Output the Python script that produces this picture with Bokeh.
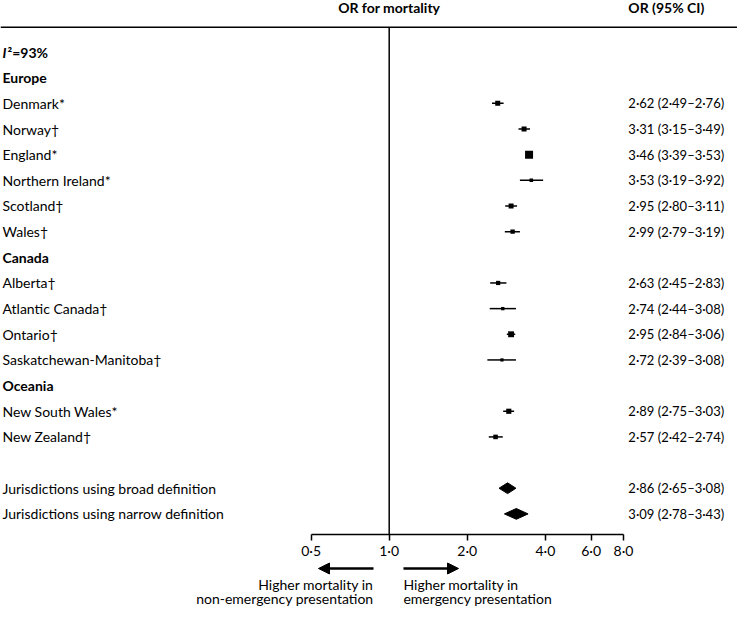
from bokeh.plotting import figure
from bokeh.models import Range1d, FixedTicker, Span, Arrow, NormalHead, ColumnDataSource
from bokeh.layouts import column
from bokeh.core.properties import value
from bokeh.embed import file_html
from bokeh.resources import INLINE
import numpy as np

# ---------------- data ----------------
regions = ["Europe", "Canada", "Oceania"]
jurisdictions = [
    ["Denmark*", "Norway†", "England*", "Northern Ireland*", "Scotland†", "Wales†"],
    ["Alberta†", "Atlantic Canada†", "Ontario†", "Saskatchewan-Manitoba†"],
    ["New South Wales*", "New Zealand†"],
]
or_est = [2.62, 3.31, 3.46, 3.53, 2.95, 2.99, 2.63, 2.74, 2.95, 2.72, 2.89, 2.57]
or_lo = [2.49, 3.15, 3.39, 3.19, 2.80, 2.79, 2.45, 2.44, 2.84, 2.39, 2.75, 2.42]
or_hi = [2.76, 3.49, 3.53, 3.92, 3.11, 3.19, 2.83, 3.08, 3.06, 3.08, 3.03, 2.74]
pooled_labels = ["Jurisdictions using broad definition", "Jurisdictions using narrow definition"]
pooled_est = [2.86, 3.09]
pooled_lo = [2.65, 2.78]
pooled_hi = [3.08, 3.43]
i2_text = "²=93%"
tick_values = [0.5, 1, 2, 4, 6, 8]
tick_labels = ["0·5", "1·0", "2·0", "4·0", "6·0", "8·0"]
left_note = ["Higher mortality in", "non-emergency presentation"]
right_note = ["Higher mortality in", "emergency presentation"]

# ---------------- layout constants ----------------
W = 737
FRAME_H = 535
BORDER_B = 26
H1 = FRAME_H + BORDER_B
H2 = 606 - H1
FONT = value("Lato")
FS = "14px"
FS_VAL = "13px"
XMIN, XMAX = 0.03176, 22.0
VAL_X = 8.35
YTOP, YBOT = -2.008, 18.803


def fmt(v):
    return f"{v:.2f}".replace(".", "·")


# rows
rows_label, rows_y, bold_y, bold_txt = [], [], [], []
r = 1
for reg, items in zip(regions, jurisdictions):
    bold_txt.append(reg)
    bold_y.append(r)
    r += 1
    for name in items:
        rows_label.append(name)
        rows_y.append(r)
        r += 1
r += 1
pool_y = [r, r + 1]

# marker size derived from precision (se from CI width)
se = (np.log(or_hi) - np.log(or_lo)) / 3.92
sizes = list(0.812 / np.sqrt(se))

p = figure(width=W, height=H1, x_axis_type="log", output_backend="svg",
           toolbar_location=None, x_range=Range1d(XMIN, XMAX),
           y_range=Range1d(YBOT, YTOP), y_axis_location=None,
           min_border_left=0, min_border_right=0, min_border_top=0,
           min_border_bottom=BORDER_B)
p.outline_line_color = None
p.grid.visible = False
p.background_fill_color = "white"
p.border_fill_color = "white"

ax = p.xaxis[0]
ax.ticker = FixedTicker(ticks=tick_values)
ax.major_label_overrides = {t: l for t, l in zip(tick_values, tick_labels)}
ax.bounds = (0.5, 8)
ax.axis_line_width = 1.5
ax.axis_line_color = "black"
ax.major_tick_line_width = 1.5
ax.major_tick_line_color = "black"
ax.major_tick_out = 6
ax.major_tick_in = 0
ax.minor_tick_line_color = None
ax.major_label_standoff = 1
ax.major_label_text_font = "Lato"
ax.major_label_text_font_size = FS
ax.major_label_text_color = "black"

# header
p.add_layout(Span(location=-0.965, dimension="width", line_color="black", line_width=1.5))
p.text(x=[1], y=[-1.72], text=["OR for mortality"], text_font=FONT, text_font_size=FS,
       text_font_style="bold", text_align="center", text_baseline="middle", text_color="black")
p.text(x=[VAL_X], y=[-1.72], text=["OR (95% CI)"], text_font=FONT, text_font_size=FS,
       text_font_style="bold", text_align="left", text_baseline="middle", text_color="black")

# reference line
p.segment(x0=[1], y0=[-0.965], x1=[1], y1=[YBOT], line_color="black", line_width=1.5)

# I² row
p.text(x=[XMIN], y=[0], text=["I"], text_font=FONT, text_font_size=FS,
       text_font_style="bold italic", text_align="left", text_baseline="middle",
       x_offset=2, text_color="black")
p.text(x=[XMIN], y=[0], text=[i2_text], text_font=FONT, text_font_size=FS,
       text_font_style="bold", text_align="left", text_baseline="middle",
       x_offset=7, text_color="black")

# region headers
p.text(x=[XMIN] * len(bold_y), y=bold_y, text=bold_txt, text_font=FONT, text_font_size=FS,
       text_font_style="bold", text_align="left", text_baseline="middle", x_offset=2,
       text_color="black")

# jurisdiction labels
all_labels = rows_label + pooled_labels
all_y = rows_y + pool_y
p.text(x=[XMIN] * len(all_labels), y=all_y, text=all_labels, text_font=FONT, text_font_size=FS,
       text_align="left", text_baseline="middle", x_offset=2, text_color="black")

# values column
vals = [f"{fmt(e)} ({fmt(a)}–{fmt(b)})" for e, a, b in
        zip(or_est + pooled_est, or_lo + pooled_lo, or_hi + pooled_hi)]
p.text(x=[VAL_X] * len(vals), y=all_y, text=vals, text_font=FONT, text_font_size=FS_VAL,
       text_align="left", text_baseline="middle", text_color="black")

# CIs and squares
src = ColumnDataSource(dict(y=rows_y, est=or_est, lo=or_lo, hi=or_hi, size=sizes))
p.segment(x0="lo", y0="y", x1="hi", y1="y", source=src, line_color="black", line_width=1.5)
p.scatter(x="est", y="y", size="size", marker="square", source=src,
          fill_color="black", line_color=None)

# diamonds
dh = 0.21
xs = [[a, e, b, e] for e, a, b in zip(pooled_est, pooled_lo, pooled_hi)]
ys = [[y, y - dh, y, y + dh] for y in pool_y]
p.patches(xs=xs, ys=ys, fill_color="black", line_color="black", line_width=1)

# ---------------- bottom strip ----------------
p2 = figure(width=W, height=H2, x_axis_type="log", output_backend="svg",
            toolbar_location=None, x_range=p.x_range, y_range=Range1d(H2, 0),
            x_axis_location=None, y_axis_location=None,
            min_border_left=0, min_border_right=0, min_border_top=0, min_border_bottom=0)
p2.outline_line_color = None
p2.grid.visible = False

XL0, XL1 = 0.870, 0.534
XR0, XR1 = 1.135, 1.850
AY = 7
p2.add_layout(Arrow(end=NormalHead(size=11, fill_color="black", line_color="black"),
                    x_start=XL0, y_start=AY, x_end=XL1, y_end=AY,
                    line_width=2.5, line_color="black"))
p2.add_layout(Arrow(end=NormalHead(size=11, fill_color="black", line_color="black"),
                    x_start=XR0, y_start=AY, x_end=XR1, y_end=AY,
                    line_width=2.5, line_color="black"))
p2.text(x=[XL0, XL0], y=[23, 37], text=left_note, text_font=FONT, text_font_size=FS,
        text_align="right", text_baseline="middle", text_color="black")
p2.text(x=[XR0, XR0], y=[23, 37], text=right_note, text_font=FONT, text_font_size=FS,
        text_align="left", text_baseline="middle", text_color="black")

layout = column(p, p2, spacing=0)
open("out.html", "w").write(file_html(layout, INLINE))
